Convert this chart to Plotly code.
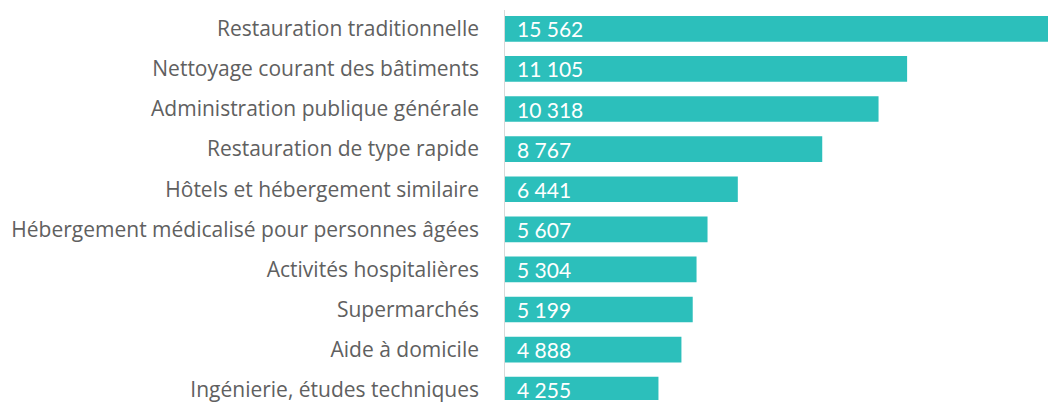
import plotly.graph_objects as go

categories = [
    "Restauration traditionnelle",
    "Nettoyage courant des bâtiments",
    "Administration publique générale",
    "Restauration de type rapide",
    "Hôtels et hébergement similaire",
    "Hébergement médicalisé pour personnes âgées",
    "Activités hospitalières",
    "Supermarchés",
    "Aide à domicile",
    "Ingénierie, études techniques",
]
values = [15562, 11105, 10318, 8767, 6441, 5607, 5304, 5199, 4888, 4255]
value_labels = [f"{v:,}".replace(",", " ") for v in values]

BAR = "#2cbfbb"
LABEL_FONT = "Open Sans"
VALUE_FONT = "Lato"

# page has an 8px body margin; figure is placed at (8, 8)
PITCH = 40.4
C0 = 21  # centre of first category, figure pixels
H = 395
W = 1056
L = 496
SCALE = 0.0363  # px per unit

fig = go.Figure(
    go.Bar(
        x=values,
        y=categories,
        orientation="h",
        marker=dict(color=BAR, line=dict(width=0)),
        width=0.64,
        hoverinfo="skip",
    )
)

for c, lab in zip(categories, value_labels):
    fig.add_annotation(
        x=0, y=c, xref="x", yref="y", text=lab, showarrow=False,
        xanchor="left", xshift=11, yshift=0,
        font=dict(family=VALUE_FONT, size=21, color="white"),
    )

fig.add_shape(
    type="line", xref="x", yref="paper", x0=0, x1=0, y0=0, y1=(H - 2) / H,
    line=dict(color="#d9d9d9", width=2),
)

fig.update_layout(
    width=W, height=H,
    margin=dict(l=L, r=0, t=0, b=0),
    paper_bgcolor="white", plot_bgcolor="white",
    showlegend=False,
    xaxis=dict(range=[0, (W - L) / SCALE], visible=False, fixedrange=True),
    yaxis=dict(
        categoryorder="array", categoryarray=categories,
        range=[(H - C0) / PITCH, -C0 / PITCH],
        showgrid=False, zeroline=False, showline=False,
        ticks="", ticklabelstandoff=24,
        tickfont=dict(family=LABEL_FONT, size=21, color="#606060"),
    ),
)

fig.write_html("out.html")
